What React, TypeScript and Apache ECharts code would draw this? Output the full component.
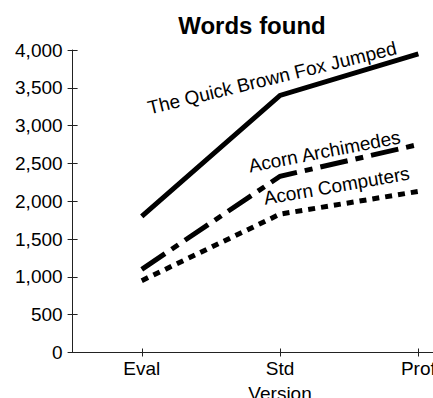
import React, { useEffect, useRef } from "react";
import * as echarts from "echarts";

const chartTitle = "Words found";
const xAxisName = "Version";
const categories = ["Eval", "Std", "Prof"];
const seriesNames = ["The Quick Brown Fox Jumped", "Acorn Archimedes", "Acorn Computers"];
const foxValues = [1800, 3400, 3950];
const archimedesValues = [1100, 2330, 2750];
const computersValues = [950, 1830, 2130];
const yMin = 0;
const yMax = 4000;
const yStep = 500;

const FONT = "'Liberation Sans', Arial, Helvetica, sans-serif";

export default function App() {
  const ref = useRef<HTMLDivElement>(null);
  useEffect(() => {
    if (!ref.current) return;
    const chart = echarts.init(ref.current, undefined, { renderer: "svg" });
    const allValues = [foxValues, archimedesValues, computersValues];
    const dashes: any[] = ["solid", [28, 8, 8, 8], [7, 6]];
    const axisColor = "#222";
    chart.setOption({
      animation: false,
      textStyle: { fontFamily: FONT, color: "#000" },
      title: {
        text: chartTitle,
        left: 247,
        textAlign: "center",
        top: 8,
        textStyle: { fontFamily: FONT, fontSize: 24, fontWeight: "bold", color: "#000" },
      },
      grid: { left: 72.6, top: 50, right: -54.5, bottom: 45.5, outerBoundsMode: "none", containLabel: false },
      xAxis: [
        {
          type: "category",
          data: categories,
          boundaryGap: true,
          name: xAxisName,
          nameLocation: "middle",
          nameGap: 31,
          nameTextStyle: { fontFamily: FONT, fontSize: 19, color: "#000" },
          axisLine: { show: true, lineStyle: { color: axisColor, width: 1 } },
          axisTick: { show: true, alignWithLabel: true, inside: false, length: 4, lineStyle: { color: axisColor } },
          axisLabel: { show: true, margin: 6, fontFamily: FONT, fontSize: 19, color: "#000" },
          splitLine: { show: false },
        },
        {
          type: "category",
          data: categories,
          boundaryGap: true,
          position: "bottom",
          axisLine: { show: false },
          axisTick: { show: true, alignWithLabel: true, inside: true, length: 4, lineStyle: { color: axisColor } },
          axisLabel: { show: false },
          splitLine: { show: false },
        },
      ],
      yAxis: [
        {
          type: "value",
          min: yMin,
          max: yMax,
          interval: yStep,
          axisLine: { show: true, lineStyle: { color: axisColor, width: 1 } },
          axisTick: { show: true, inside: false, length: 5, lineStyle: { color: axisColor } },
          axisLabel: {
            margin: 10,
            fontFamily: FONT,
            fontSize: 19,
            color: "#000",
            formatter: (v: number) => v.toLocaleString("en-US"),
          },
          splitLine: { show: false },
        },
        {
          type: "value",
          min: yMin,
          max: yMax,
          interval: yStep,
          position: "left",
          axisLine: { show: false },
          axisTick: { show: true, inside: true, length: 5, lineStyle: { color: axisColor } },
          axisLabel: { show: false },
          splitLine: { show: false },
        },
      ],
      series: allValues.map((vals, i) => ({
        type: "line",
        name: seriesNames[i],
        data: vals,
        xAxisIndex: 0,
        yAxisIndex: 0,
        symbol: "none",
        silent: true,
        lineStyle: { color: "#000", width: 5, type: dashes[i], cap: "butt", join: "miter" },
        emphasis: { disabled: true },
      })),
    });

    // Direct labels placed along the Std -> Prof segment of each line
    const labelPlacement = [
      { t: -0.047, lift: 13, rot: 13.7 },
      { t: 0.33, lift: 8, rot: 11 },
      { t: 0.417, lift: 12.5, rot: 9.9 },
    ];
    const texts = allValues.map((vals, i) => {
      const a = chart.convertToPixel({ xAxisIndex: 0, yAxisIndex: 0 }, [1, vals[1]]) as number[];
      const b = chart.convertToPixel({ xAxisIndex: 0, yAxisIndex: 0 }, [2, vals[2]]) as number[];
      const p = labelPlacement[i];
      const bx = a[0] + p.t * (b[0] - a[0]);
      const ly = a[1] + p.t * (b[1] - a[1]);
      const by = ly - p.lift;
      const th = (p.rot * Math.PI) / 180;
      const cx = bx - 6.5 * Math.sin(th);
      const cy = by - 6.5 * Math.cos(th);
      return {
        type: "text",
        x: cx,
        y: cy,
        rotation: th,
        silent: true,
        style: {
          text: seriesNames[i],
          fill: "#000",
          font: `19px ${FONT}`,
          fontSize: 19,
          fontFamily: FONT,
          align: "center",
          verticalAlign: "middle",
        },
      };
    });
    chart.setOption({ graphic: texts });

    return () => chart.dispose();
  }, []);
  return (
    <div
      ref={ref}
      style={{ position: "fixed", left: 0, top: 0, width: 433, height: 398, background: "#fff" }}
    />
  );
}
